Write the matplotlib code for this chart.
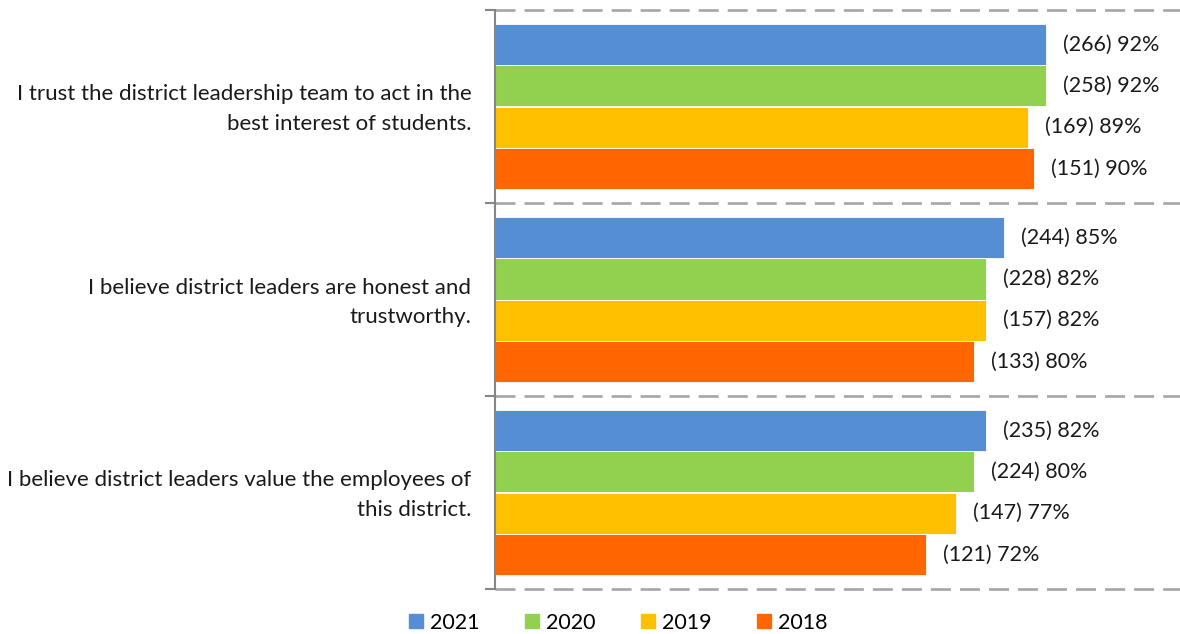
import numpy as np
import matplotlib.pyplot as plt
from matplotlib.lines import Line2D
from matplotlib.transforms import ScaledTranslation

plt.rcParams['font.family'] = ['Lato', 'DejaVu Sans']
plt.rcParams['lines.scale_dashes'] = False

questions = [
    "I trust the district leadership team to act in the\nbest interest of students.",
    "I believe district leaders are honest and\ntrustworthy.",
    "I believe district leaders value the employees of\nthis district.",
]
years = ["2021", "2020", "2019", "2018"]
pct_2021 = [92, 85, 82]
pct_2020 = [92, 82, 80]
pct_2019 = [89, 82, 77]
pct_2018 = [90, 80, 72]
n_2021 = [266, 244, 235]
n_2020 = [258, 228, 224]
n_2019 = [169, 157, 147]
n_2018 = [151, 133, 121]

pcts = [pct_2021, pct_2020, pct_2019, pct_2018]
counts = [n_2021, n_2020, n_2019, n_2018]
colors = ["#558ED5", "#92D050", "#FFC000", "#FF6600"]

W, H = 1180, 634
fig = plt.figure(figsize=(W / 100, H / 100), dpi=100)
ax = fig.add_axes([495 / W, 1 - 589 / H, 1 - 495 / W, (589 - 10) / H])

fs = 15.5
h = 0.214
cat = np.arange(len(questions))
for j, (vals, ns, c) in enumerate(zip(pcts, counts, colors)):
    y = cat + 0.5 + (j - 1.5) * h
    bars = ax.barh(y, np.array(vals) / 100, height=h, color=c, edgecolor='white', linewidth=0.6)
    labels = [f"({n}) {p}%" for n, p in zip(ns, vals)]
    ax.bar_label(bars, labels=labels, padding=12, fontsize=fs, color='#1a1a1a')

ax.set_xlim(0, 685 / 599)
ax.set_ylim(3, 0)

# dashed separators between questions
for b in range(4):
    ax.axhline(b, color='#A6A6A6', linewidth=1.9, dashes=(14.4, 6.5), clip_on=False, zorder=0)

for s in ['top', 'right', 'bottom']:
    ax.spines[s].set_visible(False)
ax.spines['left'].set_color('#868686')
ax.spines['left'].set_linewidth(1.5)
ax.set_xticks([])
ax.set_yticks(range(4))
ax.set_yticklabels([])
ax.tick_params(axis='y', which='major', length=7, width=1.5, color='#868686')
ax.set_yticks(cat + 0.5, minor=True)
ax.set_yticklabels(questions, minor=True, fontsize=16, color='#1a1a1a', linespacing=1.62)
ax.tick_params(axis='y', which='minor', length=0, pad=17)
# nudge the question text up a little
shift = ScaledTranslation(0, 4 / 100, fig.dpi_scale_trans)
for lbl in ax.get_yticklabels(minor=True):
    lbl.set_transform(lbl.get_transform() + shift)

handles = [Line2D([], [], marker='s', linestyle='none', markersize=9.5, color=c) for c in colors]
fig.legend(handles, years, loc='center', bbox_to_anchor=(618 / W, 1 - 623 / H), ncol=4,
           frameon=False, fontsize=fs, handlelength=0.7, handletextpad=0.3, columnspacing=2.1,
           borderpad=0, borderaxespad=0)

fig.savefig('out.png', dpi=100)
